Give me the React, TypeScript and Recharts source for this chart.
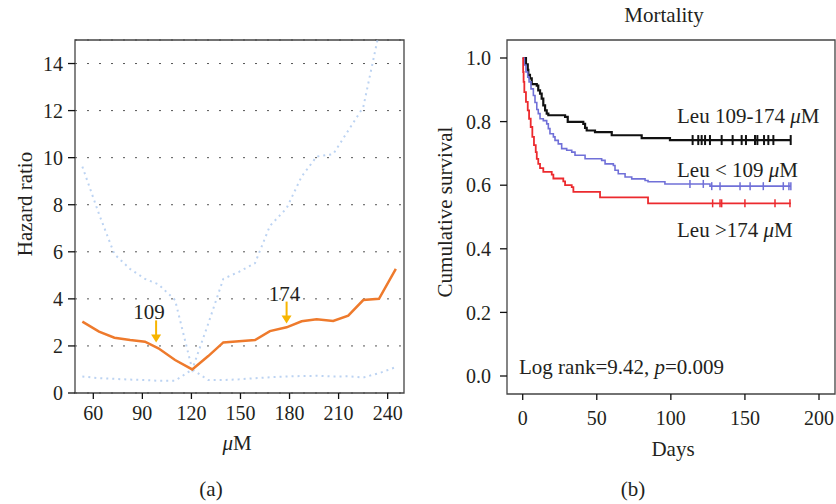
import React from "react";
import {
  ComposedChart,
  LineChart,
  Line,
  Scatter,
  XAxis,
  YAxis,
  CartesianGrid,
  ReferenceArea,
  ReferenceDot
} from "recharts";

const FONT = '"Liberation Serif", "DejaVu Serif", serif';
const TEXT = "#231f20";

// (a) hazard ratio vs leucine
const leuValues = [
  53.3, 63.5, 72.9, 82.5, 91.6, 99.8, 110.0, 120.5, 130.3, 139.5, 149.1,
  158.9, 168.0, 178.2, 187.4, 196.6, 206.7, 215.9, 225.1, 234.7, 245.0
];
const hazardRatio = [
  3.03, 2.61, 2.35, 2.25, 2.18, 1.9, 1.4, 1.0, 1.57, 2.15, 2.2, 2.25, 2.63,
  2.79, 3.05, 3.13, 3.06, 3.29, 3.95, 4.0, 5.27
];
const ciLower = [
  0.7, 0.63, 0.6, 0.57, 0.55, 0.52, 0.52, 1.0, 0.55, 0.55, 0.58, 0.63, 0.67,
  0.7, 0.72, 0.73, 0.7, 0.71, 0.66, 0.84, 1.1
];
const ciUpper = [
  9.62, 7.6, 5.9, 5.27, 4.85, 4.62, 3.95, 1.0, 2.95, 4.85, 5.15, 5.52, 7.1,
  7.85, 9.2, 10.05, 10.15, 11.15, 12.15, 15.3, 19.0
];
const leuTicks = [60, 90, 120, 150, 180, 210, 240];
const hrTicks = [0, 2, 4, 6, 8, 10, 12, 14];
const cutoffs = [
  { label: "109", x: 98.4, y: 2.15, dx: -7 },
  { label: "174", x: 178.2, y: 2.95, dx: -2 }
];

// (b) Kaplan-Meier mortality
const midDays = [
  0, 2.2, 3.4, 3.8, 4.9, 6.1, 9.5, 10.5, 11.7, 12.8, 13.9, 15.1, 16.2, 17.3,
  28.6, 30.4, 40.9, 42.1, 43.2, 48.8, 60.1, 80.3, 99.4, 181
];
const midSurv = [
  1, 0.98, 0.963, 0.947, 0.936, 0.918, 0.913, 0.898, 0.888, 0.872, 0.851,
  0.835, 0.825, 0.82, 0.815, 0.799, 0.793, 0.78, 0.772, 0.767, 0.757, 0.748,
  0.742, 0.742
];
const midCensor = [
  114.7, 118.5, 120.8, 123.1, 126.4, 134.3, 141.7, 147.8, 150.7, 156.8, 158.4,
  162.9, 165.8, 169.2, 180.9
];

const lowDays = [
  0, 1.1, 2.2, 3.4, 4.3, 5.6, 7.2, 8.3, 9.5, 10.5, 11.7, 13.9, 16.2, 17.3,
  18.4, 20.7, 21.8, 24, 26.3, 29.7, 33.1, 35.3, 42.1, 53.3, 55.6, 61.2, 62.3,
  64.5, 69.1, 73.6, 82.6, 84.6, 96, 126.4, 181
];
const lowSurv = [
  1, 0.978, 0.956, 0.94, 0.925, 0.903, 0.882, 0.86, 0.838, 0.825, 0.809,
  0.803, 0.793, 0.778, 0.762, 0.752, 0.741, 0.73, 0.715, 0.71, 0.704, 0.694,
  0.683, 0.678, 0.667, 0.662, 0.647, 0.636, 0.626, 0.62, 0.615, 0.611, 0.604,
  0.597, 0.597
];
const lowCensor = [112.9, 121.9, 127.6, 133.2, 146.7, 153.5, 162.4, 175.9, 179.7, 181];

const highDays = [
  0, 0.3, 0.6, 1.1, 2.2, 3.4, 4.3, 5.4, 6.5, 7.6, 8.8, 9.5, 10.5, 11.7, 13.9,
  19.6, 20.7, 27.4, 28.6, 33.1, 34.2, 52.2, 84.6, 181
];
const highSurv = [
  1, 0.956, 0.925, 0.893, 0.862, 0.835, 0.809, 0.783, 0.752, 0.726, 0.704,
  0.683, 0.667, 0.654, 0.642, 0.633, 0.621, 0.612, 0.6, 0.594, 0.579, 0.562,
  0.543, 0.543
];
const highCensor = [128.2, 133.2, 134.3, 150, 170.3, 180.4];

const dayTicks = [0, 50, 100, 150, 200];
const survTicks = [0, 0.2, 0.4, 0.6, 0.8, 1.0];

const hrData = leuValues.map((leu, i) => ({
  leu,
  hr: hazardRatio[i],
  lo: ciLower[i],
  hi: ciUpper[i]
}));

const curve = (days: number[], surv: number[]) =>
  days.map((t, i) => ({ t, s: surv[i] }));

// censor marks sit on the step level at that time
const censorPoints = (days: number[], surv: number[], times: number[]) =>
  times.map((t) => {
    let s = surv[0];
    days.forEach((d, i) => {
      if (d <= t) s = surv[i];
    });
    return { t, s };
  });

const tickStyle = { fontFamily: FONT, fontSize: 20, fill: TEXT };

const arrowShape = (label: string, dx: number) => (props: any) => {
  const { cx, cy } = props;
  const c = "#f7b500";
  return (
    <g>
      <line x1={cx} x2={cx} y1={cy - 22} y2={cy - 7} stroke={c} strokeWidth={2} />
      <polygon points={`${cx - 5},${cy - 8} ${cx + 5},${cy - 8} ${cx},${cy}`} fill={c} />
      <text
        x={cx + dx}
        y={cy - 23}
        textAnchor="middle"
        fontFamily={FONT}
        fontSize={21}
        fill={TEXT}
      >
        {label}
      </text>
    </g>
  );
};

const censorShape = (color: string, half: number, w: number) => (props: any) => {
  const { cx, cy } = props;
  return (
    <line x1={cx} x2={cx} y1={cy - half} y2={cy + half} stroke={color} strokeWidth={w} />
  );
};

function HazardPanel() {
  return (
    <LineChart
      width={420}
      height={470}
      data={hrData}
      margin={{ top: 40, right: 16, left: 0, bottom: 0 }}
    >
      <CartesianGrid vertical={false} stroke="#555" strokeDasharray="2 10" />
      <XAxis
        type="number"
        dataKey="leu"
        domain={[48.8, 250]}
        ticks={leuTicks}
        axisLine={false}
        tickSize={6}
        tickMargin={7}
        tickLine={{ stroke: "#111", strokeWidth: 1.3 }}
        tick={tickStyle}
        height={77}
      />
      <YAxis
        type="number"
        domain={[0, 15]}
        ticks={hrTicks}
        allowDataOverflow
        axisLine={false}
        tickSize={7}
        tickMargin={5}
        tickLine={{ stroke: "#111", strokeWidth: 1.3 }}
        tick={tickStyle}
        width={75}
      />
      <ReferenceArea
        x1={48.8}
        x2={250}
        y1={0}
        y2={15}
        fill="none"
        stroke="#444"
        strokeWidth={1.3}
        ifOverflow="visible"
      />
      <Line
        dataKey="hi"
        stroke="#bcd3f2"
        strokeWidth={2}
        strokeDasharray="2 4"
        dot={false}
        isAnimationActive={false}
      />
      <Line
        dataKey="lo"
        stroke="#bcd3f2"
        strokeWidth={2}
        strokeDasharray="2 4"
        dot={false}
        isAnimationActive={false}
      />
      <Line
        dataKey="hr"
        stroke="#ee7a2c"
        strokeWidth={2.5}
        dot={false}
        isAnimationActive={false}
      />
      {cutoffs.map((c) => (
        <ReferenceDot
          key={c.label}
          x={c.x}
          y={c.y}
          shape={arrowShape(c.label, c.dx)}
        />
      ))}
    </LineChart>
  );
}

function SurvivalPanel() {
  return (
    <ComposedChart
      width={416}
      height={470}
      margin={{ top: 40, right: 1, left: 0, bottom: 0 }}
    >
      <XAxis
        type="number"
        dataKey="t"
        domain={[-10.6, 210.8]}
        ticks={dayTicks}
        axisLine={false}
        tickSize={6}
        tickMargin={11}
        tickLine={{ stroke: "#111", strokeWidth: 1.3 }}
        tick={tickStyle}
        height={76}
      />
      <YAxis
        type="number"
        dataKey="s"
        domain={[-0.0566, 1.0566]}
        ticks={survTicks}
        tickFormatter={(v: number) => v.toFixed(1)}
        axisLine={false}
        tickSize={7}
        tickMargin={9}
        tickLine={{ stroke: "#111", strokeWidth: 1.3 }}
        tick={tickStyle}
        width={87}
      />
      <ReferenceArea
        x1={-10.6}
        x2={210.8}
        y1={-0.0566}
        y2={1.0566}
        fill="none"
        stroke="#444"
        strokeWidth={1.3}
        ifOverflow="visible"
      />
      <Line
        data={curve(midDays, midSurv)}
        dataKey="s"
        type="stepAfter"
        stroke="#111"
        strokeWidth={2.2}
        dot={false}
        isAnimationActive={false}
      />
      <Line
        data={curve(lowDays, lowSurv)}
        dataKey="s"
        type="stepAfter"
        stroke="#7070d8"
        strokeWidth={1.6}
        dot={false}
        isAnimationActive={false}
      />
      <Line
        data={curve(highDays, highSurv)}
        dataKey="s"
        type="stepAfter"
        stroke="#ec2a2e"
        strokeWidth={1.8}
        dot={false}
        isAnimationActive={false}
      />
      <Scatter
        data={censorPoints(midDays, midSurv, midCensor)}
        dataKey="s"
        shape={censorShape("#111", 5, 2)}
        isAnimationActive={false}
      />
      <Scatter
        data={censorPoints(lowDays, lowSurv, lowCensor)}
        dataKey="s"
        shape={censorShape("#7070d8", 4, 1.5)}
        isAnimationActive={false}
      />
      <Scatter
        data={censorPoints(highDays, highSurv, highCensor)}
        dataKey="s"
        shape={censorShape("#ec2a2e", 4, 1.5)}
        isAnimationActive={false}
      />
    </ComposedChart>
  );
}

export default function App() {
  const t = { fontFamily: FONT, fontSize: 21, fill: TEXT };
  return (
    <div
      style={{
        position: "absolute",
        left: 0,
        top: 0,
        width: 836,
        height: 504,
        background: "#fff"
      }}
    >
      <div style={{ position: "absolute", left: 0, top: 0 }}>
        <HazardPanel />
      </div>
      <div style={{ position: "absolute", left: 420, top: 0 }}>
        <SurvivalPanel />
      </div>
      <svg
        width={836}
        height={504}
        style={{ position: "absolute", left: 0, top: 0, pointerEvents: "none" }}
      >
        <text {...t} x={31.5} y={204} textAnchor="middle" transform="rotate(-90 31.5 204)">
          Hazard ratio
        </text>
        <text {...t} x={237} y={450} textAnchor="middle">
          <tspan fontStyle="italic">μ</tspan>M
        </text>
        <text {...t} x={211} y={496} textAnchor="middle">
          (a)
        </text>
        <text {...t} x={664} y={21.5} textAnchor="middle">
          Mortality
        </text>
        <text {...t} x={452} y={212} textAnchor="middle" transform="rotate(-90 452 212)">
          Cumulative survival
        </text>
        <text {...t} x={673} y={455.5} textAnchor="middle">
          Days
        </text>
        <text {...t} x={633} y={496} textAnchor="middle">
          (b)
        </text>
        <text {...t} x={677} y={123.3}>
          Leu 109-174 <tspan fontStyle="italic">μ</tspan>M
        </text>
        <text {...t} x={677} y={176.7}>
          {"Leu < 109 "}
          <tspan fontStyle="italic">μ</tspan>M
        </text>
        <text {...t} x={677} y={237.3}>
          {"Leu >174 "}
          <tspan fontStyle="italic">μ</tspan>M
        </text>
        <text {...t} x={519} y={374}>
          {"Log rank=9.42, "}
          <tspan fontStyle="italic">p</tspan>=0.009
        </text>
      </svg>
    </div>
  );
}
